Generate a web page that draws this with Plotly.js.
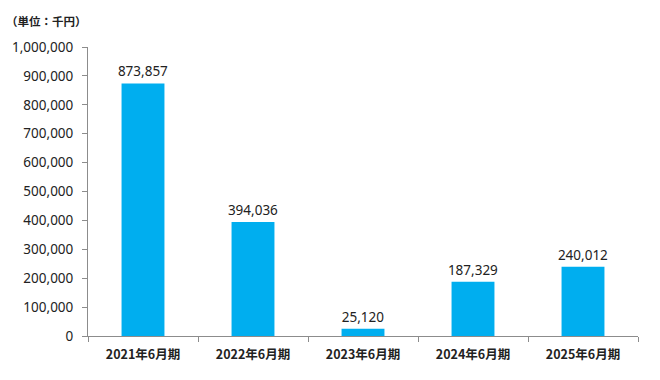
<!DOCTYPE html>
<html><head><meta charset="utf-8">
<script src="https://cdn.plot.ly/plotly-3.0.1.min.js"></script>
<style>html,body{margin:0;padding:0;background:#fff}</style>
</head><body>
<div id="chart" style="width:660px;height:380px"></div>
<script>
const categories = ['2021年6月期','2022年6月期','2023年6月期','2024年6月期','2025年6月期'];
const values = [873857, 394036, 25120, 187329, 240012];
const unitLabel = '（単位：千円）';

const trace = {
  type: 'bar',
  x: categories,
  y: values,
  marker: {color: '#00AEEF'},
  width: 0.39,
  texttemplate: '%{y:,}',
  textposition: 'outside',
  constraintext: 'none',
  cliponaxis: false,
  textfont: {family: 'Noto Sans, Open Sans, sans-serif', size: 13.5, color: '#222'},
  hoverinfo: 'none'
};

const layout = {
  width: 660, height: 380,
  margin: {l: 88, r: 22, t: 47, b: 44},
  paper_bgcolor: '#fff', plot_bgcolor: '#fff',
  showlegend: false,
  xaxis: {
    type: 'category',
    showline: true, linecolor: '#8c8c8c', linewidth: 1,
    ticks: 'outside', tickson: 'boundaries', ticklen: 5, tickcolor: '#8c8c8c',
    showgrid: false,
    ticklabelstandoff: 7,
    tickfont: {family: 'Noto Sans CJK JP, sans-serif', size: 12.5, color: '#222', weight: 'bold'}
  },
  yaxis: {
    range: [0, 1000000],
    dtick: 100000,
    tickformat: ',d',
    showline: true, linecolor: '#8c8c8c', linewidth: 1,
    ticks: 'outside', ticklen: 5, tickcolor: '#8c8c8c',
    ticklabelstandoff: 6,
    showgrid: false, zeroline: false,
    tickfont: {family: 'Noto Sans, Open Sans, sans-serif', size: 13.5, color: '#222'}
  },
  annotations: [{
    text: unitLabel, xref: 'paper', yref: 'paper',
    x: -0.152, y: 1.09, xanchor: 'left', yanchor: 'middle', showarrow: false,
    font: {family: 'Noto Sans CJK JP, sans-serif', size: 11.5, color: '#222', weight: 'bold'}
  }]
};

Plotly.newPlot('chart', [trace], layout, {displayModeBar: false, staticPlot: true});
</script>
</body></html>
